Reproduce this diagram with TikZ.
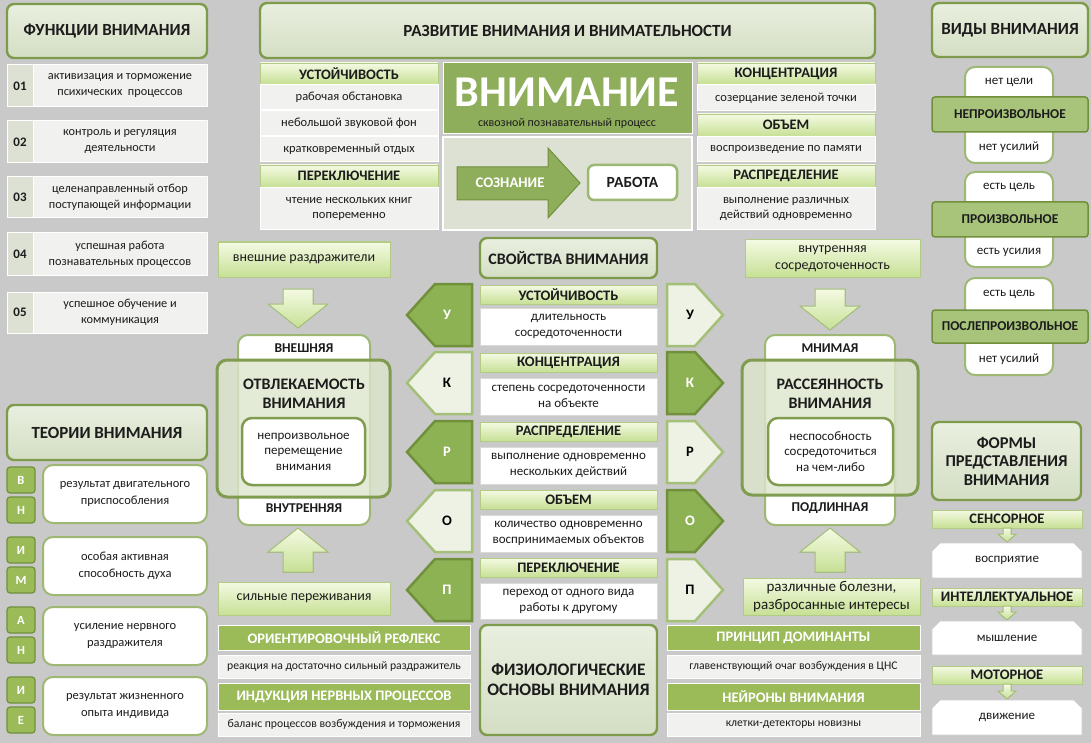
\documentclass[tikz,border=0pt]{standalone}
\usepackage{fontspec}
\setmainfont{Carlito}
\definecolor{bg}{HTML}{C9C9C9}
\definecolor{hdrtop}{HTML}{E9EFDF}
\definecolor{hdrbot}{HTML}{D4DEC4}
\definecolor{hdrdraw}{HTML}{7E9B4B}
\definecolor{limetop}{HTML}{F4FAE3}
\definecolor{limebot}{HTML}{C7E095}
\definecolor{limedraw}{HTML}{B3CB86}
\definecolor{rowfill}{HTML}{F1F1F0}
\definecolor{numfill}{HTML}{DCE1D3}
\definecolor{gmid}{HTML}{9BBB59}
\definecolor{gdark}{HTML}{70903C}
\definecolor{vnim}{HTML}{8FAE5B}
\definecolor{lowbox}{HTML}{DCE1D4}
\definecolor{gborder}{HTML}{9DB873}
\definecolor{txt}{HTML}{1C1C1C}
\definecolor{vbarfill}{HTML}{A8C47A}
\definecolor{bigdraw}{HTML}{809C4E}
\definecolor{bigfill}{HTML}{DCE5CB}
\definecolor{dgreen}{HTML}{8DB254}
\definecolor{dgreenedge}{HTML}{70903C}
\definecolor{lgreen}{HTML}{EEF2E5}
\definecolor{lgreenedge}{HTML}{A4BF78}
\newcommand\rbox[7]{\node[#1,minimum width={#5-#3},minimum height={#6-#4}] (#2) at ({(#3+#5)/2},{(#4+#6)/2}) {#7};}
\newcommand\blkdown[3]{\filldraw[barrow] (#1-15,#2) -- (#1+15,#2) -- (#1+15,#3-24) -- (#1+30,#3-24) -- (#1,#3) -- (#1-30,#3-24) -- (#1-15,#3-24) -- cycle;}
\newcommand\blkup[3]{\filldraw[barrow] (#1,#2) -- (#1+30,#2+24) -- (#1+15,#2+24) -- (#1+15,#3) -- (#1-15,#3) -- (#1-15,#2+24) -- (#1-30,#2+24) -- cycle;}
\newcommand\blksmall[3]{\filldraw[barrow] (#1-4,#2) -- (#1+4,#2) -- (#1+4,#3-8) -- (#1+9,#3-8) -- (#1,#3) -- (#1-9,#3-8) -- (#1-4,#3-8) -- cycle;}
\newcommand\larrow[5]{\filldraw[#3] (472,#2-31) -- (435,#2-31) -- (407,#2) -- (435,#2+31) -- (472,#2+31) -- cycle; \node[#4] (#1) at (447,#2) {#5};}
\newcommand\rarrow[5]{\filldraw[#3] (667,#2-31) -- (695,#2-31) -- (723,#2) -- (695,#2+31) -- (667,#2+31) -- cycle; \node[#4] (#1) at (690,#2) {#5};}
\newcommand\chbox[4]{\filldraw[fwhite] (932,#2+8) -- (940,#2) -- (1074,#2) -- (1082,#2+8) -- (1082,#3) -- (932,#3) -- cycle; \node[flbl] (#1) at (1007,{(#2+#3)/2}) {#4};}
\begin{document}
\begin{tikzpicture}[x=1pt,y=-1pt,
 base/.style={inner sep=0pt,outer sep=0pt,align=center,text=txt},
 hdr/.style={base,rounded corners=7pt,draw=hdrdraw,line width=2.4pt,top color=hdrtop,bottom color=hdrbot,font=\bfseries\fontsize{17}{20}\selectfont},
 lime/.style={base,top color=limetop,bottom color=limebot,draw=limedraw,line width=0.8pt,font=\bfseries\fontsize{14.5}{16}\selectfont},
 row/.style={base,fill=rowfill,draw=white,line width=1pt,font=\fontsize{12.5}{15.5}\selectfont},
 brow/.style={row,font=\fontsize{11.7}{14}\selectfont},
 frow/.style={row,font=\fontsize{12.3}{16}\selectfont},
 num/.style={base,fill=numfill,draw=white,line width=1pt,font=\bfseries\fontsize{13}{15}\selectfont},
 gbar/.style={base,fill=gmid,draw=white,line width=1pt,text=white,font=\bfseries\fontsize{14.5}{16}\selectfont},
 vbar/.style={base,fill=vbarfill,draw=gdark,line width=1.5pt,rounded corners=3pt,font=\bfseries\fontsize{13.5}{15}\selectfont},
 wtab/.style={base,fill=white,draw=gborder,line width=2pt,rounded corners=10pt},
 lett/.style={base,fill=gmid,draw=gdark,line width=1.2pt,rounded corners=3pt,text=white,font=\bfseries\fontsize{12.5}{14}\selectfont},
 wbox/.style={base,fill=white,draw=gborder,line width=2pt,rounded corners=10pt,font=\fontsize{12.5}{16.5}\selectfont},
 prow/.style={base,fill=white,draw=black!15,line width=0.8pt,font=\fontsize{13}{16}\selectfont},
 lbl/.style={base,font=\fontsize{13}{15}\selectfont},
 flbl/.style={base,font=\fontsize{13}{15}\selectfont},
 blbl/.style={base,font=\bfseries\fontsize{13.5}{15}\selectfont},
 ttl/.style={base,font=\bfseries\fontsize{16}{19}\selectfont},
 limebox/.style={base,top color=limetop,bottom color=limebot,draw=limedraw,line width=1pt,font=\fontsize{14}{16.5}\selectfont},
 barrow/.style={top color=limetop,bottom color=limebot,draw=lgreenedge,line width=1pt},
 bigbox/.style={rounded corners=10pt,draw=bigdraw,line width=3pt,fill=bigfill,fill opacity=0.8},
 inbox/.style={base,fill=white,draw=bigdraw,line width=2.5pt,rounded corners=10pt,font=\fontsize{13}{15.5}\selectfont},
 darr/.style={fill=dgreen,draw=dgreenedge,line width=2.5pt},
 larr/.style={fill=lgreen,draw=lgreenedge,line width=2.5pt},
 dlet/.style={base,text=white,font=\bfseries\fontsize{14.5}{16}\selectfont},
 llet/.style={base,text=black,font=\bfseries\fontsize{14.5}{16}\selectfont},
 vnimbox/.style={base,fill=vnim,draw=white,line width=1pt},
 lowb/.style={base,fill=lowbox,draw=white,line width=1.5pt},
 sarrow/.style={fill=vnim,draw=dgreenedge,line width=1pt},
 rabota/.style={base,fill=white,draw=gborder,line width=2.5pt,rounded corners=6pt,font=\bfseries\fontsize{15.5}{17}\selectfont},
 fwhite/.style={fill=white,draw=black!20,line width=0.8pt},
]
\useasboundingbox (0,0) rectangle (1091,743);
\fill[bg] (0,0) rectangle (1091,743);

% ---------- Functions
\rbox{hdr}{fh}{7}{4}{207}{58}{ФУНКЦИИ ВНИМАНИЯ}
\rbox{num}{n1}{7}{65}{33}{107}{01}
\rbox{frow}{f1}{33}{65}{207}{107}{активизация и торможение\\психических\ \ процессов}
\rbox{num}{n2}{7}{121}{33}{163}{02}
\rbox{frow}{f2}{33}{121}{207}{163}{контроль и регуляция\\деятельности}
\rbox{num}{n3}{7}{177}{33}{218}{03}
\rbox{frow}{f3}{33}{177}{207}{218}{целенаправленный отбор\\поступающей информации}
\rbox{num}{n4}{7}{233}{33}{275}{04}
\rbox{frow}{f4}{33}{233}{207}{275}{успешная работа\\познавательных процессов}
\rbox{num}{n5}{7}{292}{33}{333}{05}
\rbox{frow}{f5}{33}{292}{207}{333}{успешное обучение и\\коммуникация}

% ---------- Development
\rbox{hdr}{rh}{260}{3}{875}{58}{РАЗВИТИЕ ВНИМАНИЯ И ВНИМАТЕЛЬНОСТИ}
\rbox{lime}{d1}{260}{63}{438}{84}{УСТОЙЧИВОСТЬ}
\rbox{row}{d2}{260}{85}{438}{110}{рабочая обстановка}
\rbox{row}{d3}{260}{111}{438}{136}{небольшой звуковой фон}
\rbox{row}{d4}{260}{137}{438}{162}{кратковременный отдых}
\rbox{lime}{d5}{260}{165}{438}{187}{ПЕРЕКЛЮЧЕНИЕ}
\rbox{row}{d6}{260}{188}{438}{230}{чтение нескольких книг\\попеременно}

\rbox{vnimbox}{vn}{443}{63}{692}{134}{}
\node[base,text=white,font=\bfseries\fontsize{44}{44}\selectfont] (vt) at (567,92) {ВНИМАНИЕ};
\node[base,font=\fontsize{12}{14}\selectfont] (vs) at (567,123) {сквозной познавательный процесс};
\rbox{lowb}{lb}{443}{137}{692}{230}{}
\filldraw[sarrow] (457,167) -- (548,167) -- (548,148) -- (580,183) -- (548,218) -- (548,200) -- (457,200) -- cycle;
\node[dlet,font=\bfseries\fontsize{14.7}{16}\selectfont] (soz) at (510,183) {СОЗНАНИЕ};
\rbox{rabota}{rab}{588}{165}{677}{200}{РАБОТА}

\rbox{lime}{e1}{697}{63}{875}{84}{КОНЦЕНТРАЦИЯ}
\rbox{row}{e2}{697}{85}{875}{111}{созерцание зеленой точки}
\rbox{lime}{e3}{697}{114}{875}{136}{ОБЪЕМ}
\rbox{row}{e4}{697}{137}{875}{162}{воспроизведение по памяти}
\rbox{lime}{e5}{697}{165}{875}{187}{РАСПРЕДЕЛЕНИЕ}
\rbox{row}{e6}{697}{188}{875}{230}{выполнение различных\\действий одновременно}

% ---------- Kinds
\rbox{hdr}{vh}{932}{3}{1088}{57}{ВИДЫ ВНИМАНИЯ}
\rbox{wtab}{t1}{965}{67}{1053}{163}{}
\rbox{vbar}{v1}{932}{97}{1088}{132}{НЕПРОИЗВОЛЬНОЕ}
\node[lbl] (t1a) at (1009,82) {нет цели};
\node[lbl] (t1b) at (1009,147) {нет усилий};
\rbox{wtab}{t2}{965}{172}{1053}{267}{}
\rbox{vbar}{v2}{932}{202}{1088}{237}{ПРОИЗВОЛЬНОЕ}
\node[lbl] (t2a) at (1009,187) {есть цель};
\node[lbl] (t2b) at (1009,252) {есть усилия};
\rbox{wtab}{t3}{965}{278}{1053}{375}{}
\rbox{vbar}{v3}{932}{310}{1088}{343}{ПОСЛЕПРОИЗВОЛЬНОЕ}
\node[lbl] (t3a) at (1009,294) {есть цель};
\node[lbl] (t3b) at (1009,359) {нет усилий};

% ---------- Forms
\rbox{hdr,font=\bfseries\fontsize{16.5}{18.5}\selectfont}{fmh}{932}{422}{1081}{500}{ФОРМЫ\\ПРЕДСТАВЛЕНИЯ\\ВНИМАНИЯ}
\rbox{lime}{s1}{932}{510}{1082}{528}{СЕНСОРНОЕ}
\blksmall{1007}{528}{542}
\chbox{s1b}{543}{578}{восприятие}
\rbox{lime}{s2}{932}{588}{1082}{606}{ИНТЕЛЛЕКТУАЛЬНОЕ}
\blksmall{1007}{606}{620}
\chbox{s2b}{621}{655}{мышление}
\rbox{lime}{s3}{932}{666}{1082}{684}{МОТОРНОЕ}
\blksmall{1007}{684}{699}
\chbox{s3b}{700}{735}{движение}

% ---------- Theories
\rbox{hdr}{th}{7}{405}{207}{460}{ТЕОРИИ ВНИМАНИЯ}
\rbox{lett}{l1}{7}{467}{35}{493}{В}
\rbox{lett}{l2}{7}{497}{35}{523}{Н}
\rbox{lett}{l3}{7}{537}{35}{563}{И}
\rbox{lett}{l4}{7}{567}{35}{593}{М}
\rbox{lett}{l5}{7}{607}{35}{633}{А}
\rbox{lett}{l6}{7}{637}{35}{663}{Н}
\rbox{lett}{l7}{7}{677}{35}{703}{И}
\rbox{lett}{l8}{7}{707}{35}{733}{Е}
\rbox{wbox}{w1}{43}{465}{207}{523}{результат двигательного\\приспособления}
\rbox{wbox}{w2}{43}{537}{207}{595}{особая активная\\способность духа}
\rbox{wbox}{w3}{43}{607}{207}{665}{усиление нервного\\раздражителя}
\rbox{wbox}{w4}{43}{677}{207}{735}{результат жизненного\\опыта индивида}

% ---------- Properties
\rbox{hdr,font=\bfseries\fontsize{16}{18}\selectfont}{ph}{480}{238}{657}{278}{СВОЙСТВА ВНИМАНИЯ}
\rbox{lime}{p1}{480}{285}{657}{304}{УСТОЙЧИВОСТЬ}
\rbox{prow}{p1b}{480}{308}{657}{345}{длительность\\сосредоточенности}
\rbox{lime}{p2}{480}{353}{657}{372}{КОНЦЕНТРАЦИЯ}
\rbox{prow}{p2b}{480}{378}{657}{415}{степень сосредоточенности\\на объекте}
\rbox{lime}{p3}{480}{422}{657}{441}{РАСПРЕДЕЛЕНИЕ}
\rbox{prow}{p3b}{480}{447}{657}{484}{выполнение одновременно\\нескольких действий}
\rbox{lime}{p4}{480}{490}{657}{509}{ОБЪЕМ}
\rbox{prow}{p4b}{480}{515}{657}{552}{количество одновременно\\воспринимаемых объектов}
\rbox{lime}{p5}{480}{558}{657}{577}{ПЕРЕКЛЮЧЕНИЕ}
\rbox{prow}{p5b}{480}{583}{657}{619}{переход от одного вида\\работы к другому}

\larrow{la1}{315}{darr}{dlet}{У}
\larrow{la2}{383}{larr}{llet}{К}
\larrow{la3}{452}{darr}{dlet}{Р}
\larrow{la4}{521}{larr}{llet}{О}
\larrow{la5}{590}{darr}{dlet}{П}
\rarrow{ra1}{315}{larr}{llet}{У}
\rarrow{ra2}{383}{darr}{dlet}{К}
\rarrow{ra3}{452}{larr}{llet}{Р}
\rarrow{ra4}{521}{darr}{dlet}{О}
\rarrow{ra5}{590}{larr}{llet}{П}

% ---------- Distractibility
\rbox{limebox}{ex}{218}{242}{390}{277}{внешние раздражители}
\blkdown{298}{289}{328}
\rbox{wtab}{otab}{238}{335}{370}{525}{}
\node[blbl] (vne) at (304,348) {ВНЕШНЯЯ};
\node[blbl] (vnu) at (304,508) {ВНУТРЕННЯЯ};
\filldraw[bigbox] (217,360) rectangle (390,497);
\node[ttl] (ot) at (304,394) {ОТВЛЕКАЕМОСТЬ\\ВНИМАНИЯ};
\rbox{inbox}{oin}{242}{418}{365}{485}{непроизвольное\\перемещение\\внимания}
\blkup{298}{528}{572}
\rbox{limebox}{sp}{218}{582}{390}{615}{сильные переживания}

% ---------- Absent-mindedness
\rbox{limebox}{inn}{745}{240}{920}{277}{внутренняя\\сосредоточенность}
\blkdown{830}{289}{330}
\rbox{wtab}{rtab}{765}{335}{895}{525}{}
\node[blbl] (mn) at (830,348) {МНИМАЯ};
\node[blbl] (pd) at (830,508) {ПОДЛИННАЯ};
\filldraw[bigbox] (742,360) rectangle (918,495);
\node[ttl] (rt) at (830,394) {РАССЕЯННОСТЬ\\ВНИМАНИЯ};
\rbox{inbox}{rin}{768}{418}{893}{485}{неспособность\\сосредоточиться\\на чем-либо}
\blkup{830}{528}{572}
\rbox{limebox,font=\fontsize{15}{17.5}\selectfont}{bol}{743}{578}{920}{615}{различные болезни,\\разбросанные интересы}

% ---------- Physiology
\rbox{gbar}{b1}{218}{625}{470}{650}{ОРИЕНТИРОВОЧНЫЙ РЕФЛЕКС}
\rbox{brow}{b1b}{218}{655}{470}{678}{реакция на достаточно сильный раздражитель}
\rbox{gbar}{b2}{218}{683}{470}{710}{ИНДУКЦИЯ НЕРВНЫХ ПРОЦЕССОВ}
\rbox{brow}{b2b}{218}{713}{470}{736}{баланс процессов возбуждения и торможения}
\rbox{hdr,font=\bfseries\fontsize{17.5}{20}\selectfont}{fz}{480}{625}{657}{735}{ФИЗИОЛОГИЧЕСКИЕ\\ОСНОВЫ ВНИМАНИЯ}
\rbox{gbar}{c1}{667}{625}{920}{650}{ПРИНЦИП ДОМИНАНТЫ}
\rbox{brow}{c1b}{667}{655}{920}{678}{главенствующий очаг возбуждения в ЦНС}
\rbox{gbar}{c2}{667}{683}{920}{710}{НЕЙРОНЫ ВНИМАНИЯ}
\rbox{brow}{c2b}{667}{713}{920}{736}{клетки-детекторы новизны}
\end{tikzpicture}
\end{document}
